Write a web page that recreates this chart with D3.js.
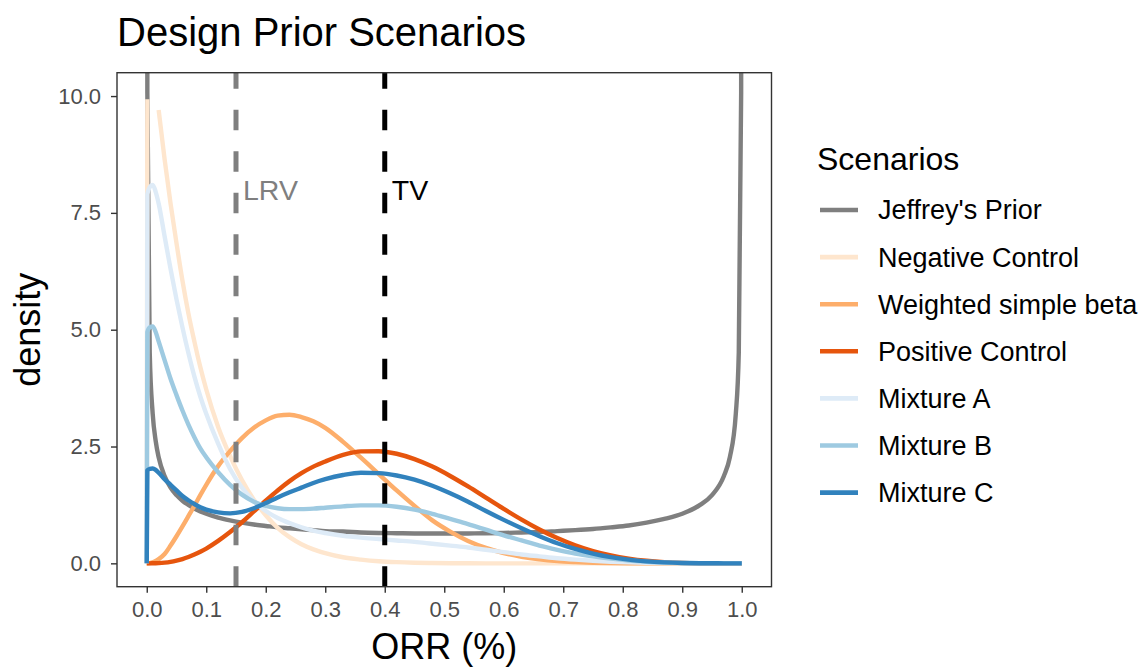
<!DOCTYPE html>
<html>
<head>
<meta charset="utf-8">
<script src="https://cdn.jsdelivr.net/npm/d3@7"></script>
<style>
  html, body { margin: 0; padding: 0; background: #fff; }
  svg { display: block; font-family: "Liberation Sans", Arial, sans-serif; }
</style>
</head>
<body>
<svg id="chart" width="1144" height="670"></svg>
<script>
// ORR grid shared by every density curve
const orr = [0, 0.001, 0.005, 0.01, 0.015, 0.02,
  0.03, 0.04, 0.05, 0.06, 0.07, 0.08, 0.09, 0.10,
  0.12, 0.14, 0.16, 0.18, 0.20, 0.22, 0.24, 0.26, 0.28, 0.30,
  0.33, 0.36, 0.39, 0.42, 0.45, 0.48, 0.51, 0.54, 0.57, 0.60, 0.63, 0.66, 0.69, 0.72, 0.75, 0.78, 0.81, 0.84, 0.87, 0.90,
  0.93, 0.95, 0.97, 0.98, 0.99, 0.995, 0.999, 1.0];

// densities (null = above the plotted range, left out of the line)
const jeffreys = [40, 10.07, 4.51, 3.20, 2.62, 2.27,
  1.87, 1.62, 1.46, 1.34, 1.25, 1.17, 1.11, 1.06,
  0.98, 0.92, 0.87, 0.83, 0.80, 0.77, 0.75, 0.73, 0.71, 0.69,
  0.68, 0.66, 0.65, 0.645, 0.64, 0.637, 0.637, 0.64, 0.643, 0.65, 0.66, 0.67, 0.69, 0.71, 0.735, 0.77, 0.81, 0.87, 0.95, 1.06,
  1.25, 1.46, 1.87, 2.27, 3.20, 4.51, 10.07, 40];

const negativeControl = [0, 9.93, null, null, null, 9.70,
  8.65, 7.70, 6.85, 6.05, 5.35, 4.75, 4.20, 3.72,
  2.92, 2.30, 1.78, 1.36, 1.03, 0.76, 0.56, 0.41, 0.30, 0.22,
  0.13, 0.08, 0.045, 0.025, 0.013, 0.007, 0.003, 0.001, 0, 0, 0, 0, 0, 0, 0, 0, 0, 0, 0, 0,
  0, 0, 0, 0, 0, 0, 0, 0];

const weightedBeta = [0, 0, 0.005, 0.02, 0.05, 0.09,
  0.20, 0.38, 0.58, 0.79, 1.01, 1.23, 1.46, 1.68,
  2.08, 2.40, 2.68, 2.90, 3.06, 3.16, 3.18, 3.13, 3.04, 2.90,
  2.60, 2.26, 1.91, 1.56, 1.23, 0.92, 0.68, 0.48, 0.33, 0.22, 0.14, 0.085, 0.048, 0.027, 0.013, 0.006, 0.002, 0.001, 0, 0,
  0, 0, 0, 0, 0, 0, 0, 0];

const positiveControl = [0, 0, 0, 0.001, 0.002, 0.005,
  0.015, 0.032, 0.058, 0.092, 0.135, 0.187, 0.248, 0.316,
  0.48, 0.67, 0.88, 1.11, 1.34, 1.56, 1.76, 1.93, 2.07, 2.18,
  2.32, 2.395, 2.40, 2.345, 2.23, 2.07, 1.87, 1.645, 1.405, 1.165, 0.935, 0.725, 0.54, 0.385, 0.262, 0.168, 0.10, 0.054, 0.026, 0.010,
  0.003, 0.001, 0, 0, 0, 0, 0, 0];

const mixtureA = [0, 7.9, 8.05, 8.1, 7.95, 7.7,
  7.0, 6.3, 5.65, 5.05, 4.5, 4.0, 3.57, 3.2,
  2.56, 2.02, 1.62, 1.33, 1.12, 0.97, 0.86, 0.77, 0.70, 0.65,
  0.59, 0.55, 0.52, 0.49, 0.46, 0.42, 0.38, 0.34, 0.29, 0.24, 0.19, 0.15, 0.11, 0.08, 0.055, 0.035, 0.02, 0.011, 0.005, 0.002,
  0.001, 0, 0, 0, 0, 0, 0, 0];

const mixtureB = [0, 4.95, 5.05, 5.07, 4.95, 4.75,
  4.35, 3.95, 3.60, 3.27, 2.97, 2.70, 2.46, 2.27,
  1.95, 1.68, 1.47, 1.32, 1.23, 1.18, 1.16, 1.16, 1.17, 1.19,
  1.22, 1.24, 1.24, 1.21, 1.15, 1.06, 0.95, 0.84, 0.72, 0.60, 0.49, 0.38, 0.29, 0.21, 0.15, 0.10, 0.06, 0.035, 0.018, 0.008,
  0.003, 0.001, 0, 0, 0, 0, 0, 0];

const mixtureC = [0, 1.99, 2.02, 2.03, 2.00, 1.94,
  1.80, 1.68, 1.56, 1.44, 1.35, 1.27, 1.20, 1.15,
  1.09, 1.07, 1.10, 1.18, 1.29, 1.41, 1.52, 1.62, 1.72, 1.80,
  1.89, 1.94, 1.93, 1.88, 1.79, 1.66, 1.50, 1.32, 1.12, 0.93, 0.75, 0.58, 0.43, 0.31, 0.21, 0.134, 0.08, 0.043, 0.021, 0.008,
  0.002, 0.001, 0, 0, 0, 0, 0, 0];

const scenarioNames = ["Jeffrey's Prior", "Negative Control", "Weighted simple beta",
  "Positive Control", "Mixture A", "Mixture B", "Mixture C"];
const scenarioValues = [jeffreys, negativeControl, weightedBeta, positiveControl, mixtureA, mixtureB, mixtureC];
const scenarioColors = ["#7F7F7F", "#FEE6CE", "#FDAE6B", "#E6550D", "#DEEBF7", "#9ECAE1", "#3182BD"];

// reference lines
const refNames = ["LRV", "TV"];
const refValues = [0.15, 0.40];
const refColors = ["#7F7F7F", "#000000"];

const xTicks = [0, 0.1, 0.2, 0.3, 0.4, 0.5, 0.6, 0.7, 0.8, 0.9, 1.0];
const yTicks = [0, 2.5, 5, 7.5, 10];

// ---- layout ----
const panel = { left: 117, right: 771.5, top: 72.7, bottom: 586.7 };
const svg = d3.select("#chart");
svg.append("rect").attr("width", 1144).attr("height", 670).attr("fill", "#fff");

const x = d3.scaleLinear().domain([-0.05, 1.05]).range([panel.left, panel.right]);
const y = d3.scaleLinear().domain([-0.5, 10.5]).range([panel.bottom, panel.top]);

svg.append("defs").append("clipPath").attr("id", "panel-clip")
  .append("rect")
  .attr("x", panel.left).attr("y", panel.top)
  .attr("width", panel.right - panel.left).attr("height", panel.bottom - panel.top);

// ---- curves ----
const line = d3.line()
  .defined(d => d[1] !== null)
  .x(d => x(d[0]))
  .y(d => y(d[1]))
  .curve(d3.curveMonotoneX);

const plot = svg.append("g").attr("clip-path", "url(#panel-clip)");
scenarioValues.forEach((vals, i) => {
  const pts = orr.map((o, j) => [o, vals[j]]);
  plot.append("path")
    .attr("d", line(pts))
    .attr("fill", "none")
    .attr("stroke", scenarioColors[i])
    .attr("stroke-width", 4.4)
    .attr("stroke-linejoin", "round")
    .attr("stroke-linecap", "butt");
});

// ---- dashed reference lines ----
refValues.forEach((v, i) => {
  plot.append("line")
    .attr("x1", x(v)).attr("x2", x(v))
    .attr("y1", panel.bottom).attr("y2", panel.top)
    .attr("stroke", refColors[i])
    .attr("stroke-width", 5)
    .attr("stroke-dasharray", "20.5,21");
  svg.append("text")
    .attr("x", x(v) + 7)
    .attr("y", 200)
    .attr("fill", refColors[i])
    .attr("font-size", 28.5)
    .text(refNames[i]);
});

// ---- panel border ----
svg.append("rect")
  .attr("x", panel.left).attr("y", panel.top)
  .attr("width", panel.right - panel.left).attr("height", panel.bottom - panel.top)
  .attr("fill", "none").attr("stroke", "#333333").attr("stroke-width", 1.4);

// ---- axes ----
const xAxis = svg.append("g")
  .attr("transform", `translate(0,${panel.bottom})`)
  .call(d3.axisBottom(x).tickValues(xTicks).tickFormat(d3.format(".1f")).tickSize(6).tickPadding(9));
const yAxis = svg.append("g")
  .attr("transform", `translate(${panel.left},0)`)
  .call(d3.axisLeft(y).tickValues(yTicks).tickFormat(d3.format(".1f")).tickSize(6).tickPadding(10));
[xAxis, yAxis].forEach(g => {
  g.select(".domain").remove();
  g.selectAll(".tick line").attr("stroke", "#333333").attr("stroke-width", 1.4);
  g.selectAll(".tick text").attr("fill", "#4D4D4D").attr("font-size", 22)
    .attr("font-family", "'Liberation Sans', Arial, sans-serif");
});

// ---- titles ----
svg.append("text")
  .attr("x", 117).attr("y", 46)
  .attr("font-size", 40).attr("fill", "#000")
  .text("Design Prior Scenarios");

svg.append("text")
  .attr("x", (panel.left + panel.right) / 2).attr("y", 659)
  .attr("text-anchor", "middle")
  .attr("font-size", 36).attr("fill", "#000")
  .text("ORR (%)");

svg.append("text")
  .attr("transform", `translate(40,${(panel.top + panel.bottom) / 2}) rotate(-90)`)
  .attr("text-anchor", "middle")
  .attr("font-size", 36).attr("fill", "#000")
  .text("density");

// ---- legend ----
const legend = svg.append("g");
legend.append("text")
  .attr("x", 817).attr("y", 170)
  .attr("font-size", 32).attr("fill", "#000")
  .text("Scenarios");

scenarioNames.forEach((name, i) => {
  const cy = 210 + i * 47.1;
  legend.append("line")
    .attr("x1", 820).attr("x2", 858)
    .attr("y1", cy).attr("y2", cy)
    .attr("stroke", scenarioColors[i])
    .attr("stroke-width", 4.6);
  legend.append("text")
    .attr("x", 878).attr("y", cy)
    .attr("dy", "0.35em")
    .attr("font-size", 27).attr("fill", "#000")
    .text(name);
});
</script>
</body>
</html>
